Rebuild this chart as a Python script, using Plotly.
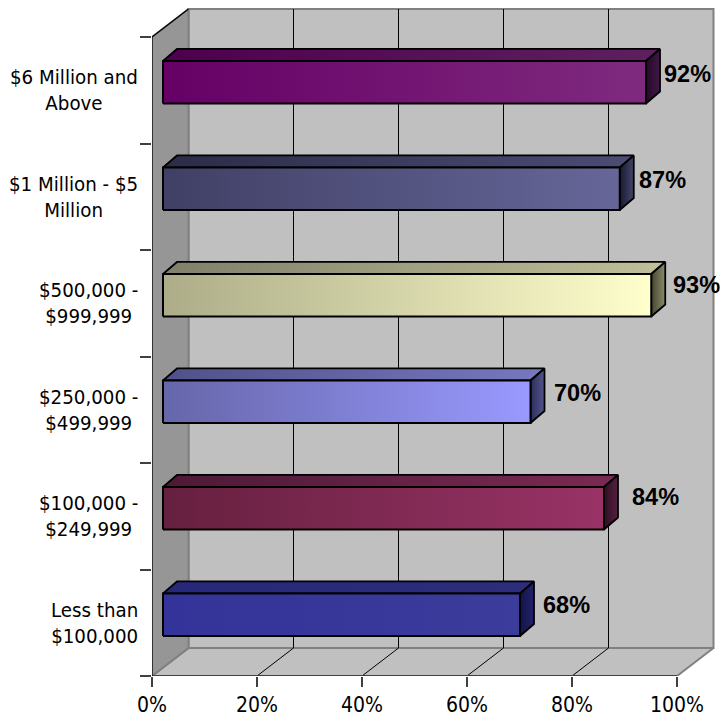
import plotly.graph_objects as go

categories = ["Less than<br>$100,000", "$100,000 -<br>$249,999", "$250,000 -<br>$499,999",
              "$500,000 -<br>$999,999", "$1 Million - $5<br>Million", "$6 Million and<br>Above"]
values = [68, 84, 70, 93, 87, 92]
x_ticks = [0, 20, 40, 60, 80, 100]

# gradient colours (left, right) per bar
front_colors = [("#333399", "#3c3c9c"), ("#66203f", "#993366"), ("#6666aa", "#9999ff"),
                ("#acac88", "#ffffcc"), ("#404066", "#666699"), ("#660066", "#7f2a7f")]
top_colors = [("#28287a", "#2d2d7c"), ("#4d1a36", "#7a2a52"), ("#50508a", "#7878c0"),
              ("#80806a", "#c0c09a"), ("#2c2c48", "#4c4c74"), ("#4d004d", "#5f205f")]
side_colors = [("#141448", "#22226c"), ("#2e0e24", "#55203f"), ("#2c2c5a", "#55558c"),
               ("#45452f", "#8c8c6c"), ("#1a1a33", "#44446a"), ("#26082a", "#401848")]
# hand placement of the value labels relative to the bar end (pixels)
label_dx = [46, 51, 47, 45, 43, 41]
label_dy = [10, 11, 9, 10, 9, 8]

PX_X = 5.25    # pixels per percent
PX_Y = 106.5   # pixels per category
DEPTH_X, DEPTH_Y = 36.5 / PX_X, 28 / PX_Y
BAR_X, BAR_Y = 11 / PX_X, 8 / PX_Y
BAR_DX, BAR_DY = 14 / PX_X, 12 / PX_Y
BAR_H = 21.3 / PX_Y
n = len(categories)
LABEL_FONT = "DejaVu Sans Condensed, DejaVu Sans"

fig = go.Figure()


def poly(xs, ys, fill=None, grad=None, line="black", width=1.0):
    kw = dict(x=xs, y=ys, mode="lines", line=dict(color=line, width=width),
              hoverinfo="skip", showlegend=False, cliponaxis=False)
    if grad:
        kw.update(fill="toself", fillgradient=dict(type="horizontal",
                  colorscale=[[0, grad[0]], [1, grad[1]]]))
    elif fill:
        kw.update(fill="toself", fillcolor=fill)
    fig.add_trace(go.Scatter(**kw))


top = 100 + DEPTH_X
# back wall, floor, left wall
poly([DEPTH_X, top, top, DEPTH_X, DEPTH_X], [DEPTH_Y, DEPTH_Y, n + DEPTH_Y, n + DEPTH_Y, DEPTH_Y],
     fill="#c0c0c0", line="#808080", width=2)
poly([0, 100, top, DEPTH_X, 0], [0, 0, DEPTH_Y, DEPTH_Y, 0], fill="#c0c0c0", line="#808080", width=2)
poly([0, DEPTH_X, DEPTH_X, 0, 0], [0, DEPTH_Y, n + DEPTH_Y, n, 0], fill="#969696", line="#808080", width=2)

# gridlines on the floor and back wall
for t in x_ticks[1:-1]:
    poly([t, t + DEPTH_X, t + DEPTH_X], [0, DEPTH_Y, n + DEPTH_Y], line="black", width=1)

# edges
poly([0, 100], [0, 0], line="#404040", width=2)
poly([0, 0, DEPTH_X], [0, n, n + DEPTH_Y], line="black", width=1.2)

# bars
for i, v in enumerate(values):
    x0, x1 = BAR_X, BAR_X + v
    y0, y1 = i + 0.5 + BAR_Y - BAR_H, i + 0.5 + BAR_Y + BAR_H
    poly([x0, x1, x1 + BAR_DX, x0 + BAR_DX, x0], [y1, y1, y1 + BAR_DY, y1 + BAR_DY, y1],
         grad=top_colors[i], width=1.8)
    poly([x1, x1 + BAR_DX, x1 + BAR_DX, x1, x1], [y0, y0 + BAR_DY, y1 + BAR_DY, y1, y0],
         grad=side_colors[i], width=1.8)
    poly([x0, x1, x1, x0, x0], [y0, y0, y1, y1, y0], grad=front_colors[i], width=2)

annotations = []
for i, (c, v) in enumerate(zip(categories, values)):
    annotations.append(dict(xref="paper", yref="y", x=0, y=i + 0.5, xanchor="right", yanchor="middle",
                            xshift=-12, text=c, align="center", showarrow=False,
                            font=dict(family=LABEL_FONT, size=20.3, color="black")))
    annotations.append(dict(xref="x", yref="y", x=BAR_X + v, y=i + 0.5 + BAR_Y, xanchor="center",
                            yanchor="middle", xshift=label_dx[i], yshift=label_dy[i],
                            text=f"<b>{v}%</b>", showarrow=False,
                            font=dict(family="Liberation Sans", size=23.5, color="black")))

fig.update_layout(
    width=720, height=717, autosize=False,
    margin=dict(l=152, r=4, t=8, b=41, pad=0),
    paper_bgcolor="white", plot_bgcolor="white", showlegend=False,
    xaxis=dict(range=[0, 564 / PX_X], tickvals=x_ticks, ticktext=[f"{t}%" for t in x_ticks],
               ticks="outside", ticklen=10, tickwidth=1.5, tickcolor="#404040",
               showgrid=False, zeroline=False, showline=False, automargin=False,
               tickfont=dict(family=LABEL_FONT, size=21, color="black")),
    yaxis=dict(range=[0, 668 / PX_Y], tickvals=list(range(n + 1)), ticktext=[""] * (n + 1),
               ticks="outside", ticklen=11, tickwidth=1.5, tickcolor="#404040",
               showgrid=False, zeroline=False, showline=False, automargin=False),
    annotations=annotations,
)

fig.write_html("out.html", config={"displayModeBar": False},
               post_script="document.body.style.margin='0';document.documentElement.style.overflow='hidden';")
